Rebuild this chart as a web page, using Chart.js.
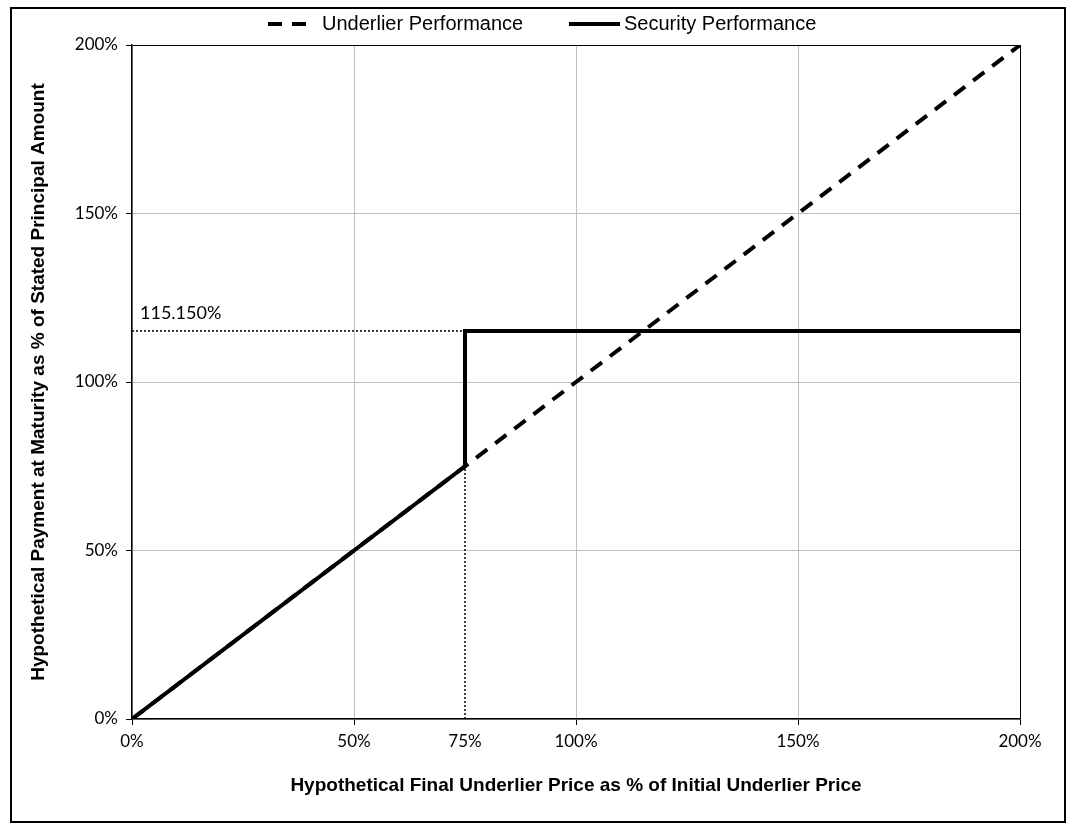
<!DOCTYPE html>
<html>
<head>
<meta charset="utf-8">
<style>
  body { margin: 0; background: #fff; }
  #wrap { width: 1083px; height: 832px; }
</style>
<script src="https://cdn.jsdelivr.net/npm/chart.js@4.4.1/dist/chart.umd.min.js"></script>
</head>
<body>
<div id="wrap"><canvas id="payoffChart" width="1083" height="832"></canvas></div>
<script>
// underlier final price as % of initial
const underlierX = [0, 200];
const underlierY = [0, 200];
// security payment at maturity
const securityX = [0, 75, 75, 200];
const securityY = [0, 75, 115.15, 115.15];
// dotted guide lines
const capGuideX = [0, 75];
const capGuideY = [115.15, 115.15];
const barrierGuideX = [75, 75];
const barrierGuideY = [0, 75];

const xTickValues = [0, 50, 75, 100, 150, 200];
const capLabel = '115.150%';

const toPoints = (xs, ys) => xs.map((x, i) => ({ x: x, y: ys[i] }));

const tickFont = { family: 'Lato', size: 17 };
const titleFont = { family: 'Liberation Sans', size: 19, weight: 'bold' };

// legend + outer frame + annotation text
const extrasPlugin = {
    id: 'extras',
    afterDraw(chart) {
        const ctx = chart.ctx;
        const xs = chart.scales.x, ys = chart.scales.y;
        ctx.save();

        // outer frame
        ctx.strokeStyle = '#000';
        ctx.lineWidth = 2;
        ctx.strokeRect(11, 8, 1054, 814);

        // cap label
        ctx.fillStyle = '#000';
        ctx.font = '18px Lato';
        ctx.textAlign = 'left';
        ctx.textBaseline = 'alphabetic';
        ctx.fillText(capLabel, xs.getPixelForValue(0) + 8, ys.getPixelForValue(capGuideY[0]) - 12);

        // legend
        const items = [
            { ds: chart.data.datasets[0], x0: 268, x1: 313, tx: 322 },
            { ds: chart.data.datasets[1], x0: 569, x1: 620, tx: 624 }
        ];
        ctx.font = '20px "Liberation Sans"';
        ctx.textBaseline = 'middle';
        items.forEach(it => {
            ctx.beginPath();
            ctx.setLineDash(it.ds.borderDash || []);
            ctx.lineWidth = it.ds.borderWidth;
            ctx.moveTo(it.x0, 24);
            ctx.lineTo(it.x1, 24);
            ctx.stroke();
            ctx.setLineDash([]);
            ctx.fillText(it.ds.label, it.tx, 24);
        });
        ctx.restore();
    }
};

const ctx = document.getElementById('payoffChart').getContext('2d');
new Chart(ctx, {
    type: 'line',
    data: {
        datasets: [
            {
                label: 'Underlier Performance',
                data: toPoints(underlierX, underlierY),
                borderColor: '#000',
                borderWidth: 4,
                borderDash: [14, 10],
                pointRadius: 0,
                order: 2
            },
            {
                label: 'Security Performance',
                data: toPoints(securityX, securityY),
                borderColor: '#000',
                borderWidth: 4,
                pointRadius: 0,
                order: 1
            },
            {
                label: 'cap guide',
                data: toPoints(capGuideX, capGuideY),
                borderColor: '#000',
                borderWidth: 1.5,
                borderDash: [2, 2],
                pointRadius: 0,
                order: 3
            },
            {
                label: 'barrier guide',
                data: toPoints(barrierGuideX, barrierGuideY),
                borderColor: '#000',
                borderWidth: 1.5,
                borderDash: [2, 2],
                pointRadius: 0,
                order: 3
            }
        ]
    },
    options: {
        responsive: false,
        animation: false,
        layout: { padding: { left: 10, right: 63, top: 45, bottom: 10 } },
        plugins: {
            legend: { display: false },
            tooltip: { enabled: false }
        },
        scales: {
            x: {
                type: 'linear',
                min: 0,
                max: 200,
                afterBuildTicks: (scale) => { scale.ticks = xTickValues.map(v => ({ value: v })); },
                afterFit: (scale) => { scale.height = 103; },
                ticks: {
                    color: '#000',
                    font: tickFont,
                    padding: 6,
                    maxRotation: 0,
                    autoSkip: false,
                    callback: (v) => v + '%'
                },
                grid: {
                    color: (c) => c.tick.value === 200 ? '#000' : (c.tick.value === 75 ? 'rgba(0,0,0,0)' : '#bfbfbf'),
                    tickColor: (c) => c.tick.value === 75 ? 'rgba(0,0,0,0)' : '#000',
                    tickLength: 6,
                    lineWidth: 1
                },
                border: { color: '#000', width: 1.5 },
                title: {
                    display: true,
                    text: 'Hypothetical Final Underlier Price as % of Initial Underlier Price',
                    color: '#000',
                    font: titleFont,
                    padding: { top: 0, bottom: 25 }
                }
            },
            y: {
                type: 'linear',
                min: 0,
                max: 200,
                afterFit: (scale) => { scale.width = 122; },
                ticks: {
                    stepSize: 50,
                    color: '#000',
                    font: tickFont,
                    padding: 8,
                    callback: (v) => v + '%'
                },
                grid: {
                    color: (c) => c.tick.value === 200 ? '#000' : '#bfbfbf',
                    tickColor: '#000',
                    tickLength: 6,
                    lineWidth: 1
                },
                border: { color: '#000', width: 1.5 },
                title: {
                    display: true,
                    text: 'Hypothetical Payment at Maturity as % of Stated Principal Amount',
                    color: '#000',
                    font: titleFont,
                    padding: { top: 17, bottom: 0 }
                }
            }
        }
    },
    plugins: [extrasPlugin]
});
</script>
</body>
</html>
